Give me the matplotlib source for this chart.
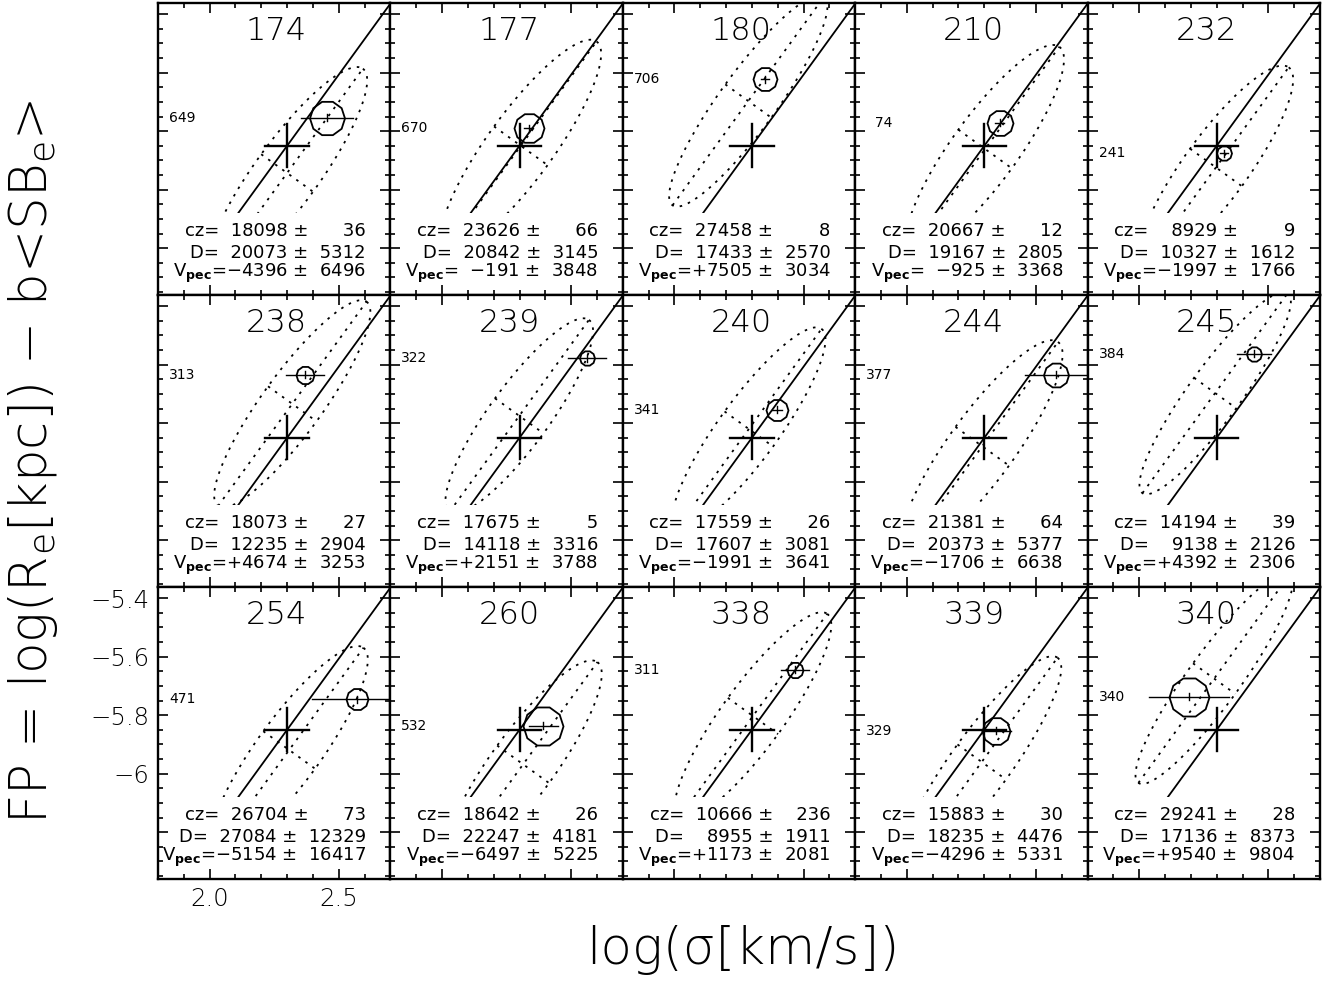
import numpy as np
import matplotlib
matplotlib.use('Agg')
import matplotlib.pyplot as plt
from matplotlib.patches import Rectangle
from matplotlib.ticker import MultipleLocator, FixedLocator, FixedFormatter

plt.rcParams['font.family'] = ['DejaVu Sans']
plt.rcParams['mathtext.fontset'] = 'custom'
plt.rcParams['mathtext.rm'] = 'DejaVu Sans:light'
plt.rcParams['mathtext.bf'] = 'DejaVu Sans:bold'

# ---- datos por cúmulo ----
ids = [174, 177, 180, 210, 232, 238, 239, 240, 244, 245, 254, 260, 338, 339, 340]
gal_lbl = [649, 670, 706, 74, 241, 313, 322, 341, 377, 384, 471, 532, 311, 329, 340]
cz = [18098, 23626, 27458, 20667, 8929, 18073, 17675, 17559, 21381, 14194,
      26704, 18642, 10666, 15883, 29241]
cz_err = [36, 66, 8, 12, 9, 27, 5, 26, 64, 39, 73, 26, 236, 30, 28]
dist = [20073, 20842, 17433, 19167, 10327, 12235, 14118, 17607, 20373, 9138,
        27084, 22247, 8955, 18235, 17136]
dist_err = [5312, 3145, 2570, 2805, 1612, 2904, 3316, 3081, 5377, 2126,
            12329, 4181, 1911, 4476, 8373]
vpec = [-4396, -191, 7505, -925, -1997, 4674, 2151, -1991, -1706, 4392,
        -5154, -6497, 1173, -4296, 9540]
vpec_err = [6496, 3848, 3034, 3368, 1766, 3253, 3788, 3641, 6638, 2306,
            16417, 5225, 2081, 5331, 9804]

# punto medido (log sigma, FP) y sus errores
gal_x = [2.456, 2.335, 2.352, 2.359, 2.329, 2.369, 2.561, 2.398, 2.576, 2.445,
         2.571, 2.392, 2.468, 2.346, 2.191]
gal_y = [-5.755, -5.790, -5.622, -5.771, -5.875, -5.635, -5.578, -5.755, -5.635, -5.563,
         -5.745, -5.837, -5.645, -5.854, -5.737]
gal_xerr = [0.101, 0.016, 0.016, 0.016, 0.016, 0.074, 0.074, 0.020, 0.119, 0.066,
            0.175, 0.056, 0.054, 0.056, 0.155]
gal_size = [17.5, 15, 12, 13, 7.5, 9, 7.5, 11, 12.5, 7.5, 11, 20, 8, 14, 20]  # radio en px

# elipse de la distribución
ell_x = [2.300, 2.305, 2.286, 2.303, 2.297, 2.320, 2.299, 2.288, 2.292, 2.294,
         2.308, 2.314, 2.304, 2.290, 2.290]
ell_y = [-5.943, -5.850, -5.697, -5.861, -5.924, -5.734, -5.775, -5.820, -5.879, -5.697,
         -5.919, -5.968, -5.803, -5.960, -5.675]
ell_a = [0.50, 0.50, 0.50, 0.49, 0.48, 0.49, 0.46, 0.48, 0.50, 0.48,
         0.49, 0.49, 0.49, 0.50, 0.50]
ell_b = [0.124, 0.128, 0.110, 0.128, 0.124, 0.116, 0.116, 0.116, 0.128, 0.101,
         0.124, 0.124, 0.120, 0.116, 0.101]

# relación FP
fp_x0, fp_y0, fp_slope = 2.30, -5.85, 1.215
y_floor = -6.08

# ---- figura ----
W, H = 1325, 985
fig = plt.figure(figsize=(W / 100, H / 100), dpi=100)
col_left = [158, 390.4, 622.8, 855.2, 1087.6]
row_top = [3, 295, 587]
pw, ph = 232.4, 292
xlim = (1.8, 2.7)
ylim = (-6.36, -5.362)
k = 292.8 / 257.8   # px por unidad y / px por unidad x

FS = '\u2007'
MINUS = '\u2212'
PM = '\u00b1'


def pad(s, w=5):
    s = str(s)
    return FS * (w - len(s)) + s


def ellipse(cx, cy, a, b, slope, n=300):
    d = np.array([1.0, slope * k])
    d /= np.hypot(*d)
    p = np.array([d[1], -d[0]])
    t = np.linspace(0, 2 * np.pi, n)
    xs = cx + a * np.cos(t) * d[0] + b * np.sin(t) * p[0]
    ys = cy + (a * np.cos(t) * d[1] + b * np.sin(t) * p[1]) / k
    return xs, ys, d, p


dots = (0, (1.4, 3.4))

for i, cid in enumerate(ids):
    r, c = divmod(i, 5)
    L, T = col_left[c], row_top[r]
    ax = fig.add_axes([L / W, 1 - (T + ph) / H, pw / W, ph / H])
    ax.set_xlim(*xlim)
    ax.set_ylim(*ylim)

    clip = Rectangle((xlim[0], y_floor), xlim[1] - xlim[0], ylim[1] - y_floor,
                     transform=ax.transData)

    # línea FP
    xl = np.array([fp_x0 + (y_floor - fp_y0) / fp_slope, 2.8])
    ln, = ax.plot(xl, fp_y0 + fp_slope * (xl - fp_x0), color='k', lw=1.3)
    ln.set_clip_path(clip)

    # elipse y ejes
    xs, ys, d, p = ellipse(ell_x[i], ell_y[i], ell_a[i], ell_b[i], fp_slope)
    a, b = ell_a[i], ell_b[i]
    segs = [(xs, ys),
            ([ell_x[i] - a * d[0], ell_x[i] + a * d[0]],
             [ell_y[i] - a * d[1] / k, ell_y[i] + a * d[1] / k]),
            ([ell_x[i] - b * p[0], ell_x[i] + b * p[0]],
             [ell_y[i] - b * p[1] / k, ell_y[i] + b * p[1] / k])]
    for sx, sy in segs:
        e, = ax.plot(sx, sy, color='k', lw=1.3, linestyle=dots)
        e.set_clip_path(clip)

    # cruz del cúmulo
    ax.plot([fp_x0 - 0.084, fp_x0 + 0.084], [fp_y0, fp_y0], color='k', lw=1.7)
    ax.plot([fp_x0, fp_x0], [fp_y0 - 0.074, fp_y0 + 0.074], color='k', lw=1.7)

    # punto medido
    gx, gy = gal_x[i], gal_y[i]
    ax.plot([gx - gal_xerr[i], gx + gal_xerr[i]], [gy, gy], color='k', lw=1.0)
    ax.plot([gx, gx], [gy - 0.012, gy + 0.012], color='k', lw=1.0)
    ax.plot(gx, gy, marker=(10, 0, 18), markersize=2 * gal_size[i] * 0.72,
            markerfacecolor='none', markeredgecolor='k', markeredgewidth=1.3)

    ax.text(0.047, gy, pad(gal_lbl[i], 3), transform=ax.get_yaxis_transform(),
            ha='left', va='center', fontsize=10)
    ax.text(0.51, 0.904, str(cid), transform=ax.transAxes, ha='center',
            va='center', fontsize=23, fontweight='light')

    v = vpec[i]
    vs = ('+' if v > 0 else MINUS) + str(abs(v))
    lines = ['cz=' + pad(cz[i], 6) + ' ' + PM + FS + pad(cz_err[i], 4),
             'D=' + pad(dist[i], 6) + ' ' + PM + FS + pad(dist_err[i], 4),
             r'V$_{\mathbf{pec}}$=' + pad(vs) + ' ' + PM + FS + pad(vpec_err[i], 4)]
    for yy, s in zip([0.219, 0.145, 0.075], lines):
        ax.text(0.894, yy, s, transform=ax.transAxes, ha='right', va='center',
                fontsize=13)

    # ticks
    ax.xaxis.set_major_locator(FixedLocator([2.0, 2.5]))
    ax.xaxis.set_minor_locator(MultipleLocator(0.1))
    ax.yaxis.set_major_locator(FixedLocator([-6.2, -6.0, -5.8, -5.6, -5.4]))
    ax.yaxis.set_minor_locator(MultipleLocator(0.05))
    ax.tick_params(which='both', direction='in', top=True, right=True, width=1.2)
    ax.tick_params(which='major', length=7)
    ax.tick_params(which='minor', length=3.5)
    for sp in ax.spines.values():
        sp.set_linewidth(1.7)
    if i == 10:
        ax.xaxis.set_major_formatter(FixedFormatter(['2.0', '2.5']))
        ax.yaxis.set_major_formatter(FixedFormatter(
            ['', MINUS + '6', MINUS + '5.8', MINUS + '5.6', MINUS + '5.4']))
        ax.tick_params(which='major', labelsize=17.5, pad=6)
        for lab in ax.get_xticklabels() + ax.get_yticklabels():
            lab.set_fontweight('light')
    else:
        ax.set_xticklabels([])
        ax.set_yticklabels([])

fig.text(33 / W, 1 - 462 / H,
         'FP = log(R$_{\\rm e}$[kpc]) ' + MINUS + ' b<SB$_{\\rm e}$>',
         rotation=90, ha='center', va='center', fontsize=37, fontweight='light')
fig.text(743 / W, 1 - 950 / H, 'log(\u03c3[km/s])', ha='center', va='center',
         fontsize=37, fontweight='light')

fig.savefig('out.png', dpi=100)
